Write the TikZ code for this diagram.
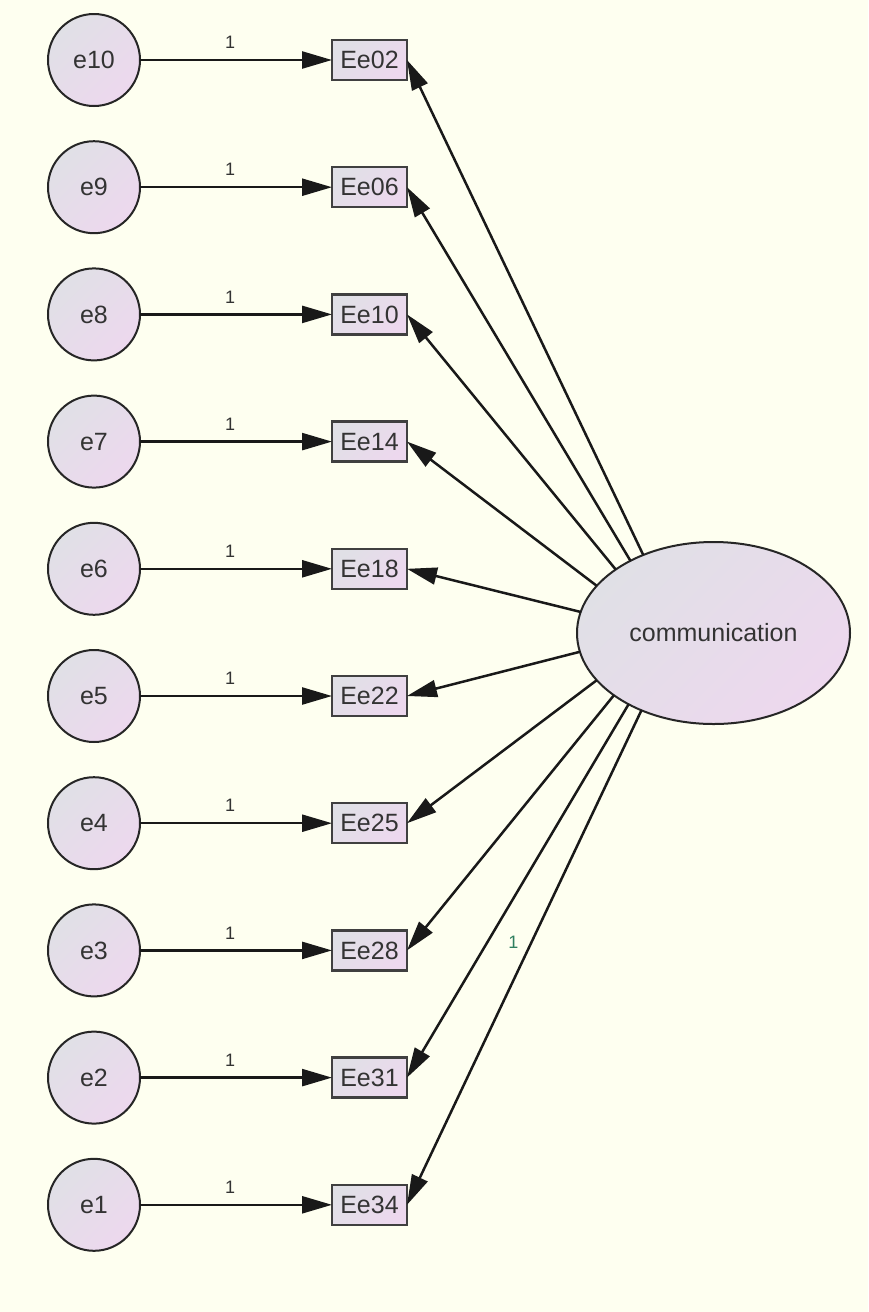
\documentclass[tikz,border=0pt]{standalone}
\usepackage{fontspec}
\setmainfont{Liberation Sans}
\usetikzlibrary{positioning, arrows.meta, shapes.geometric}
\definecolor{amosbg}{HTML}{FEFFF0}
\definecolor{latgrey}{HTML}{E0E0E6}
\definecolor{latpink}{HTML}{EDD8EE}
\definecolor{onegreen}{HTML}{2F7F5F}
\tikzset{
    err_node/.style={circle, minimum size=46pt, inner sep=0pt, outer sep=0pt, draw=black!85, line width=1pt,
        shading=axis, top color=latgrey, bottom color=latpink, shading angle=45,
        text=black!80, font=\fontsize{12.5}{14}\selectfont},
    obs_node/.style={rectangle, minimum width=37.5pt, minimum height=20pt, inner sep=0pt, outer sep=0pt,
        draw=black!75, line width=1.2pt, shading=axis, top color=latgrey, bottom color=latpink, shading angle=45,
        text=black!80, font=\fontsize{12.5}{14}\selectfont},
    lat_node/.style={ellipse, minimum width=136.5pt, minimum height=91pt, inner sep=0pt, outer sep=0pt,
        draw=black!85, line width=1pt, shading=axis, top color=latgrey, bottom color=latpink, shading angle=45,
        text=black!80, font=\fontsize{12.5}{14}\selectfont},
    arrow/.style={line width=1.25pt, draw=black!90, -{Triangle[length=15pt, width=8.5pt]}},
    one_label/.style={font=\fontsize{9}{10}\selectfont, text=black!80, inner sep=1pt, above=4pt},
    green_label/.style={font=\fontsize{9}{10}\selectfont, text=onegreen, inner sep=1pt},
}

\begin{document}
\begin{tikzpicture}[x=0.5pt, y=-0.5pt, node distance=17.6pt and 96pt]
      % background
      \fill [amosbg] (0,0) rectangle (868,1312);

      %%%%%%%%%%%%%%%%%%
      % Error terms    %
      %%%%%%%%%%%%%%%%%%
      \node (e10) [err_node] at (94,60) {e10};
      \node (e9) [err_node, below = of e10] {e9};
      \node (e8) [err_node, below = of e9] {e8};
      \node (e7) [err_node, below = of e8] {e7};
      \node (e6) [err_node, below = of e7] {e6};
      \node (e5) [err_node, below = of e6] {e5};
      \node (e4) [err_node, below = of e5] {e4};
      \node (e3) [err_node, below = of e4] {e3};
      \node (e2) [err_node, below = of e3] {e2};
      \node (e1) [err_node, below = of e2] {e1};

      %%%%%%%%%%%%%%%%%%
      % Observed items %
      %%%%%%%%%%%%%%%%%%
      \node (ee02) [obs_node, right = of e10] {Ee02};
      \node (ee06) [obs_node, right = of e9] {Ee06};
      \node (ee10) [obs_node, right = of e8] {Ee10};
      \node (ee14) [obs_node, right = of e7] {Ee14};
      \node (ee18) [obs_node, right = of e6] {Ee18};
      \node (ee22) [obs_node, right = of e5] {Ee22};
      \node (ee25) [obs_node, right = of e4] {Ee25};
      \node (ee28) [obs_node, right = of e3] {Ee28};
      \node (ee31) [obs_node, right = of e2] {Ee31};
      \node (ee34) [obs_node, right = of e1] {Ee34};

      %%%%%%%%%%%%%%%%%%
      % Latent factor  %
      %%%%%%%%%%%%%%%%%%
      \node (comm) [lat_node] at (713.5,633) {communication};

      % error -> item
      \draw [arrow] (e10) -- node [one_label, pos=0.47] {1} (ee02);
      \draw [arrow] (e9) -- node [one_label, pos=0.47] {1} (ee06);
      \draw [arrow] (e8) -- node [one_label, pos=0.47] {1} (ee10);
      \draw [arrow] (e7) -- node [one_label, pos=0.47] {1} (ee14);
      \draw [arrow] (e6) -- node [one_label, pos=0.47] {1} (ee18);
      \draw [arrow] (e5) -- node [one_label, pos=0.47] {1} (ee22);
      \draw [arrow] (e4) -- node [one_label, pos=0.47] {1} (ee25);
      \draw [arrow] (e3) -- node [one_label, pos=0.47] {1} (ee28);
      \draw [arrow] (e2) -- node [one_label, pos=0.47] {1} (ee31);
      \draw [arrow] (e1) -- node [one_label, pos=0.47] {1} (ee34);

      % factor -> item
      \draw [arrow] (comm.132.5) -- (ee02.east);
      \draw [arrow] (comm.139.6) -- (ee06.east);
      \draw [arrow] (comm.147.3) -- (ee10.east);
      \draw [arrow] (comm.158) -- (ee14.east);
      \draw [arrow] (comm.171) -- (ee18.east);
      \draw [arrow] (comm.188.4) -- (ee22.east);
      \draw [arrow] (comm.202.5) -- (ee25.east);
      \draw [arrow] (comm.212.7) -- (ee28.east);
      \draw [arrow] (comm.220.8) -- (ee31.east);
      \draw [arrow] (comm.227) -- node [green_label, pos=0.47, xshift=-9pt] {1} (ee34.east);

    \end{tikzpicture}
\end{document}
